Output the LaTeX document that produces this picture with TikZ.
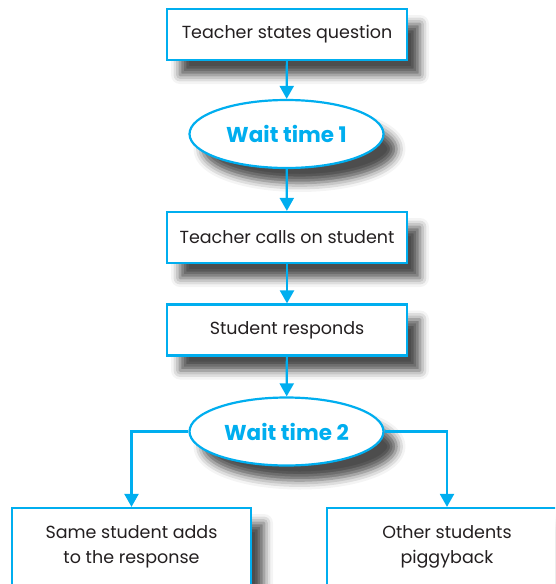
\documentclass[tikz,border=0pt]{standalone}
\usepackage{fontspec}
\setmainfont{Poppins}
\usetikzlibrary{shapes.geometric,arrows.meta,shadows.blur}
\definecolor{flowblue}{RGB}{0,174,239}
\definecolor{ink}{RGB}{35,31,32}

\begin{document}
\begin{tikzpicture}[x=1pt,y=-1pt,
   shade/.style={blur shadow={shadow xshift=13pt,shadow yshift=-15pt,
       shadow blur radius=9pt,shadow opacity=70}},
   box/.style={shade,draw=flowblue,line width=2.2pt,fill=white,
       minimum width=240pt,minimum height=51pt,inner sep=0pt,
       text=ink,align=center,font=\fontsize{17.5}{25}\selectfont},
   wait/.style={shade,ellipse,draw=flowblue,line width=2.2pt,fill=white,
       minimum width=194pt,minimum height=68pt,inner sep=0pt,
       text=flowblue,font=\fontsize{21.5}{24}\selectfont\bfseries},
   link/.style={draw=flowblue,line width=2.2pt,
       -{Triangle[width=14pt,length=13pt]}}]
   % \draw[help lines,step=50] (0,0) grid (555,584);
\useasboundingbox (0,0) rectangle (555,584);
\clip (0,0) rectangle (555,584);
\node[box] (q) at (287,34.5) {Teacher states question};
\node[wait] (w1) at (286.5,134) {Wait time 1};
\node[box] (call) at (287,237.5) {Teacher calls on student};
\node[box] (resp) at (287,330) {Student responds};
\node[wait] (w2) at (286.5,431.5) {Wait time 2};
\node[box,minimum width=239pt,minimum height=78pt] (same) at (131.5,547)
   {Same student adds\\to the response};
\node[box,minimum height=78pt] (other) at (447,547)
   {Other students\\piggyback};
\draw[link] (q) -- (w1);
\draw[link] (w1) -- (call);
\draw[link] (call) -- (resp);
\draw[link] (resp) -- (w2);
\draw[link] (w2.west) -| (same.north);
\draw[link] (w2.east) -| (other.north);
\end{tikzpicture}
\end{document}
